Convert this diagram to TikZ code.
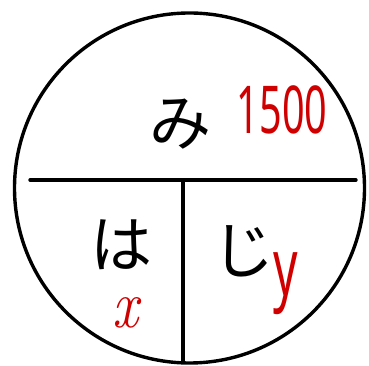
\documentclass[tikz,border=0pt]{standalone}
\usepackage{fontspec}
\newfontfamily\jpfont{Noto Sans CJK JP}
\newfontfamily\numfont{Noto Sans}
\newfontfamily\lmfont{Latin Modern Roman}
\definecolor{penred}{HTML}{D00000}
\tikzset{
  pen/.style={line width=3.4pt},
  kana/.style={font=\jpfont\fontsize{62}{62}\selectfont, inner sep=0pt, text height=0.82em, text depth=0.02em},
  redval/.style={text=penred, inner sep=0pt, transform shape},
}

\begin{document}
\begin{tikzpicture}[x=1pt,y=1pt]
\useasboundingbox (0,0) rectangle (369,366);
% circle and the two dividing lines
\draw[pen] (189.5,178) circle[radius=175pt];
\coordinate (hl) at (30,186);
\coordinate (hr) at (356,186);
\coordinate (vt) at (183,186);
\coordinate (vb) at (183,3);
\draw[pen, line cap=round] (hl) -- (hr);
\draw[pen] (vt) -- (vb);
% labels
\node[kana] (mi) at (180,224) {み};
\node[kana] (ha) at (121,102) {は};
\node[kana] (ji) at (243,96) {じ};
\node[redval, font=\numfont\fontsize{66}{66}\selectfont, xscale=0.6] (total) at (282,256) {1500};
\node[redval, font=\lmfont\itshape\fontsize{68}{68}\selectfont, xscale=0.85,
  text height=0.45em, text depth=0pt, anchor=base] (xval) at (126,38) {x};
\node[redval, font=\numfont\fontsize{80}{80}\selectfont, xscale=0.6,
  text height=0.54em, text depth=0.24em, anchor=base] (yval) at (286,70) {y};
\end{tikzpicture}
\end{document}
